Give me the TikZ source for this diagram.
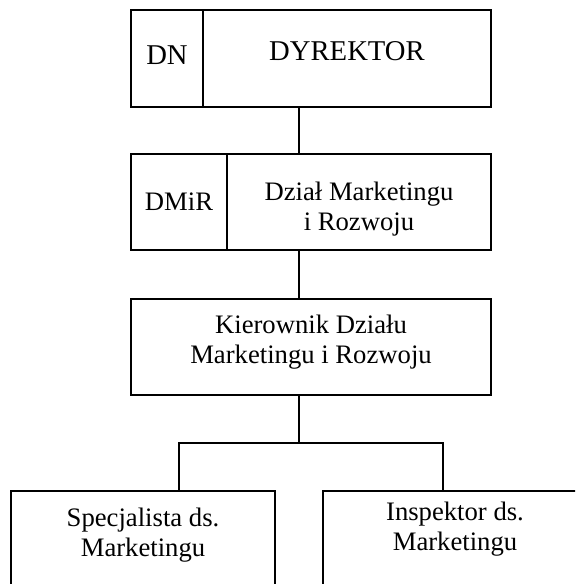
\documentclass[tikz,border=0pt]{standalone}
\usepackage{fontspec}
\setmainfont{Liberation Serif}
\usetikzlibrary{positioning}

\begin{document}
\begin{tikzpicture}[x=0.75pt, y=-0.75pt]
\tikzstyle{box} = [rectangle, draw, line width=1pt, outer sep=0pt, inner sep=0pt, minimum height=72pt]
\tikzstyle{txt} = [align=center, inner sep=0pt, font=\fontsize{20pt}{22.5pt}\selectfont]
\tikzstyle{big} = [inner sep=0pt, font=\fontsize{21.5pt}{24pt}\selectfont]
\tikzstyle{line} = [line width=1pt]

\useasboundingbox (0,0) rectangle (575,584);
\clip (0,0) rectangle (575,584);

% boxes
\node[box, minimum width=54pt, minimum height=72.75pt] (dn) at (167,58.5) {};
\node[box, minimum width=216pt, minimum height=72.75pt, right=0pt of dn] (dyr) {};
\node[box, minimum width=72pt] (dmir) at (179,202) {};
\node[box, minimum width=198pt, right=0pt of dmir] (dzial) {};
\node[box, minimum width=270pt] (kier) at (311,347) {};
\node[box, minimum width=198pt, minimum height=75pt, anchor=north] (spec) at (143,491) {};
\node[box, minimum width=198pt, minimum height=75pt, anchor=north] (insp) at (455,491) {};

% texts
\node[big] (dnt) at ([yshift=2.6pt]dn.center) {DN};
\node[big] (dyrt) at ([yshift=5.6pt]dyr.center) {DYREKTOR};
\node[txt] (dmirt) at (dmir.center) {DMiR};
\node[txt] (dzialt) at ([yshift=-5.1pt]dzial.center) {Dział Marketingu\\i Rozwoju};
\node[txt] (kiert) at ([yshift=3.75pt]kier.center) {Kierownik Działu\\Marketingu i Rozwoju};
\node[txt] (spect) at ([yshift=4.3pt]spec.center) {Specjalista ds.\\Marketingu};
\node[txt] (inspt) at ([yshift=9.2pt]insp.center) {Inspektor ds.\\Marketingu};

% connectors
\coordinate (fork) at (299,443);
\coordinate (lb) at (179,443);
\coordinate (rb) at (443,443);
\draw[line] (dyr.south -| fork) -- (dzial.north -| fork);
\draw[line] (dzial.south -| fork) -- (kier.north -| fork);
\draw[line] (kier.south -| fork) -- (fork);
\draw[line] (spec.north -| lb) -- (lb) -- (rb) -- (insp.north -| rb);
\end{tikzpicture}
\end{document}
